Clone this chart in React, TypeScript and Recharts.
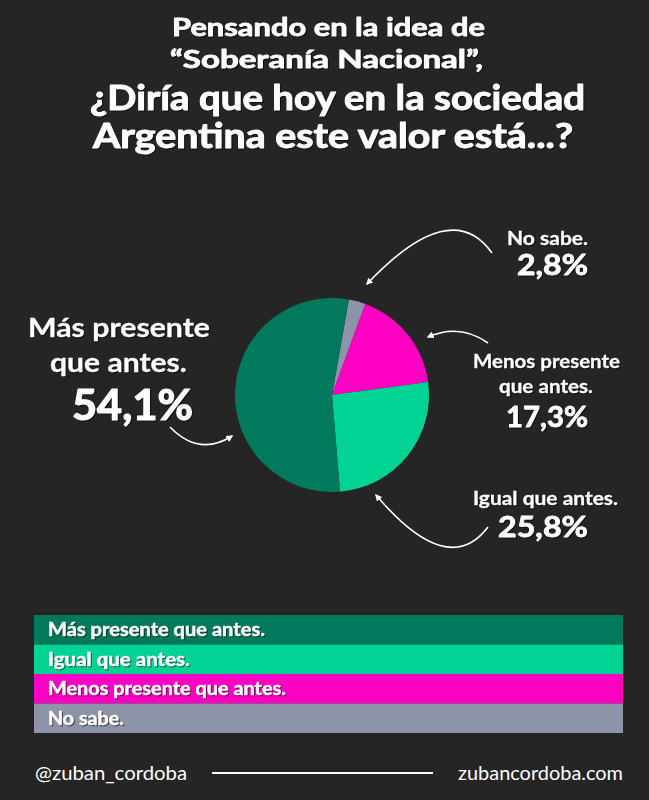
import React from "react";
import { PieChart, Pie, Cell, Legend } from "recharts";

// ---- data ----
const categories = ["No sabe.", "Menos presente que antes.", "Igual que antes.", "Más presente que antes."];
const values = [2.8, 17.3, 25.8, 54.1];
const colors = ["#8d93a8", "#fd00c1", "#00d393", "#00795d"];
const legendOrder = [3, 2, 1, 0];
const legendTextWidths = [76, 238, 142, 217];
const valueLabels = ["2,8%", "17,3%", "25,8%", "54,1%"];
const titleLines = [
  "Pensando en la idea de",
  "\u201cSoberanía Nacional\u201d,",
  "¿Diría que hoy en la sociedad",
  "Argentina este valor está...?",
];
const footerLeft = "@zuban_cordoba";
const footerRight = "zubancordoba.com";

const data = categories.map((name, i) => ({ name, value: values[i] }));

const BG = "#252525";
const FONT = "Lato, 'Open Sans', sans-serif";

type T = { x: number; y: number; w: number; s: number; t: string; sw?: number };

const shadow = { filter: "drop-shadow(1px 1px 0.6px rgba(0,0,0,0.55))" } as React.CSSProperties;

function Txt({ x, y, w, s, t, sw = 0.8 }: T) {
  return (
    <text
      x={x}
      y={y}
      fontSize={s}
      fontWeight={700}
      fill="#ffffff"
      stroke="#ffffff"
      strokeWidth={sw}
      strokeLinejoin="round"
      fontFamily={FONT}
      textLength={w}
      lengthAdjust="spacingAndGlyphs"
      style={shadow}
    >
      {t}
    </text>
  );
}

const LegendContent = () => {
  return (
    <svg width={589} height={118} style={{ display: "block" }}>
      {legendOrder.map((i, k) => (
        <g key={i}>
          <rect x={0} y={k * 29.5} width={589} height={29.5} fill={colors[i]} />
          <Txt x={14} y={k * 29.5 + 21} w={legendTextWidths[i]} s={18} t={categories[i]} sw={0.5} />
        </g>
      ))}
    </svg>
  );
};

export default function App() {
  return (
    <div
      style={{
        position: "absolute",
        top: 0,
        left: 0,
        width: 649,
        height: 800,
        background: BG,
        overflow: "hidden",
      }}
    >
      <PieChart
        width={649}
        height={800}
        margin={{ top: 0, right: 0, bottom: 0, left: 0 }}
        style={{ position: "absolute", top: 0, left: 0 }}
      >
        <Pie
          data={data}
          dataKey="value"
          nameKey="name"
          cx={332}
          cy={395}
          outerRadius={97}
          startAngle={80}
          endAngle={-280}
          stroke="none"
          isAnimationActive={false}
          label={false}
          labelLine={false}
        >
          {data.map((d, i) => (
            <Cell key={d.name} fill={colors[i]} />
          ))}
        </Pie>
        <Legend
          layout="horizontal"
          verticalAlign="bottom"
          align="left"
          content={LegendContent}
          wrapperStyle={{ position: "absolute", top: 615, left: 34, width: 589, bottom: "auto" }}
        />
      </PieChart>
      <svg
        width={649}
        height={800}
        style={{ position: "absolute", top: 0, left: 0, pointerEvents: "none" }}
      >
        <defs>
          <marker id="ah" viewBox="0 0 10 10" refX="8" refY="5" markerWidth="7" markerHeight="7" orient="auto" markerUnits="userSpaceOnUse">
            <path d="M0,0 L10,5 L0,10 z" fill="#fff" />
          </marker>
        </defs>
        {/* title */}
        <Txt x={172} y={36} w={313} s={24} t={titleLines[0]} />
        <Txt x={170} y={68} w={313} s={24} t={titleLines[1]} />
        <Txt x={90} y={110} w={495} s={35} t={titleLines[2]} sw={1} />
        <Txt x={93} y={148} w={480} s={35} t={titleLines[3]} sw={1} />

        {/* left label */}
        <Txt x={28} y={337} w={182} s={27} t="Más presente" sw={0.3} />
        <Txt x={50} y={372} w={137} s={27} t="que antes." sw={0.3} />
        <Txt x={72} y={420} w={121} s={42} t={valueLabels[3]} sw={1.2} />

        {/* right labels */}
        <Txt x={507} y={245} w={81} s={19} t="No sabe." sw={0.3} />
        <Txt x={517} y={275} w={71} s={28} t={valueLabels[0]} />

        <Txt x={473} y={368} w={147} s={19} t="Menos presente" sw={0.3} />
        <Txt x={499} y={393} w={94} s={19} t="que antes." sw={0.3} />
        <Txt x={506} y={427} w={82} s={28} t={valueLabels[1]} />

        <Txt x={473} y={505} w={145} s={19} t="Igual que antes." sw={0.3} />
        <Txt x={498} y={537} w={90} s={29} t={valueLabels[2]} />

        {/* arrows */}
        <g fill="none" stroke="#fff" strokeWidth={1.6}>
          <path d="M492,253 Q451,195 367,284" markerEnd="url(#ah)" />
          <path d="M488,343 Q460,323 428,337" markerEnd="url(#ah)" />
          <path d="M488,527 Q448,580 376,495" markerEnd="url(#ah)" />
          <path d="M170,427 Q199,457 232,436" markerEnd="url(#ah)" />
        </g>

        {/* footer */}
        <text x={35} y={780} fontSize={19} fontFamily={FONT} fill="#fff" textLength={152} lengthAdjust="spacingAndGlyphs">
          {footerLeft}
        </text>
        <line x1={212} y1={773} x2={433} y2={773} stroke="#fff" strokeWidth={2} />
        <text x={458} y={780} fontSize={19} fontFamily={FONT} fill="#fff" textLength={165} lengthAdjust="spacingAndGlyphs">
          {footerRight}
        </text>
      </svg>
    </div>
  );
}
